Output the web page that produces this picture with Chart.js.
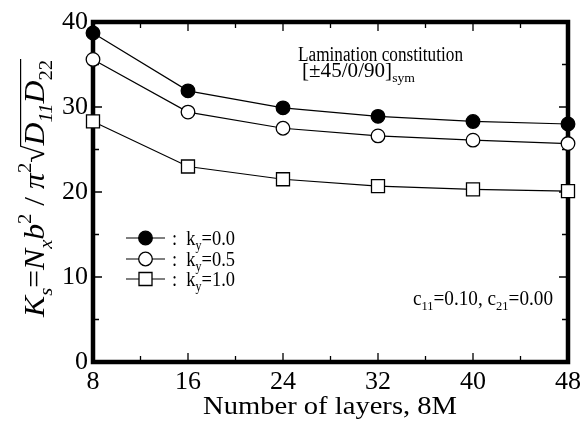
<!DOCTYPE html>
<html>
<head>
<meta charset="utf-8">
<script src="https://cdn.jsdelivr.net/npm/chart.js@4.4.1/dist/chart.umd.min.js"></script>
<style>
html, body { margin: 0; padding: 0; background: #fff; }
canvas { display: block; }
</style>
</head>
<body>
<canvas id="bucklingChart" width="582" height="423"></canvas>
<script>
// number of layers 8M
const layers = [8, 16, 24, 32, 40, 48];
// buckling coefficient Ks for each ky
const ky00 = [38.7, 31.9, 29.9, 28.9, 28.3, 28.0];
const ky05 = [35.6, 29.4, 27.5, 26.6, 26.1, 25.7];
const ky10 = [28.3, 23.0, 21.5, 20.7, 20.3, 20.1];
const seriesNames = ["0.0", "0.5", "1.0"];
const xTicks = [8, 16, 24, 32, 40, 48];
const yTicks = [0, 10, 20, 30, 40];

const SERIF = '"Liberation Serif", "Times New Roman", serif';

function toPoints(ys) {
    return layers.map((x, i) => ({ x: x, y: ys[i] }));
}

// draws text made of pieces [text, italic, pos] where pos is "", "sub" or "sup"
function drawRich(ctx, parts, x, y, size, fitWidth) {
    const items = parts.map(p => {
        const s = p[2] ? size * 0.65 : size;
        const font = (p[1] ? "italic " : "") + s + "px " + SERIF;
        ctx.font = font;
        return { text: p[0], font: font, pos: p[2], w: ctx.measureText(p[0]).width };
    });
    const total = items.reduce((a, b) => a + b.w, 0);
    const k = fitWidth ? fitWidth / total : 1;
    ctx.save();
    ctx.translate(x, y);
    ctx.scale(k, 1);
    ctx.fillStyle = "#000";
    ctx.textBaseline = "alphabetic";
    ctx.textAlign = "left";
    let cx = 0;
    items.forEach(it => {
        ctx.font = it.font;
        let dy = 0;
        if (it.pos === "sub") dy = size * 0.27;
        if (it.pos === "sup") dy = -size * 0.42;
        it.x = cx;
        ctx.fillText(it.text, cx, dy);
        cx += it.w;
    });
    ctx.restore();
    items.forEach(it => { it.x = x + it.x * k; it.w = it.w * k; });
    return items;
}

const framePlugin = {
    id: "frame",
    beforeDatasetsDraw(chart) {
        const ctx = chart.ctx;
        const a = chart.chartArea;
        const xs = chart.scales.x;
        const ys = chart.scales.y;
        ctx.save();
        ctx.strokeStyle = "#000";
        // inward ticks on all four sides
        ctx.lineWidth = 1.3;
        ctx.beginPath();
        for (let i = 0; i < xTicks.length; i++) {
            const px = xs.getPixelForValue(xTicks[i]);
            ctx.moveTo(px, a.bottom); ctx.lineTo(px, a.bottom - 9);
            ctx.moveTo(px, a.top); ctx.lineTo(px, a.top + 9);
            if (i < xTicks.length - 1) {
                const pm = xs.getPixelForValue((xTicks[i] + xTicks[i + 1]) / 2);
                ctx.moveTo(pm, a.bottom); ctx.lineTo(pm, a.bottom - 6);
                ctx.moveTo(pm, a.top); ctx.lineTo(pm, a.top + 6);
            }
        }
        for (let i = 0; i < yTicks.length; i++) {
            const py = ys.getPixelForValue(yTicks[i]);
            ctx.moveTo(a.left, py); ctx.lineTo(a.left + 9, py);
            ctx.moveTo(a.right, py); ctx.lineTo(a.right - 9, py);
            if (i < yTicks.length - 1) {
                const pm = ys.getPixelForValue((yTicks[i] + yTicks[i + 1]) / 2);
                ctx.moveTo(a.left, pm); ctx.lineTo(a.left + 6, pm);
                ctx.moveTo(a.right, pm); ctx.lineTo(a.right - 6, pm);
            }
        }
        ctx.stroke();
        ctx.lineWidth = 4.5;
        ctx.lineJoin = "miter";
        ctx.strokeRect(a.left, a.top, a.right - a.left, a.bottom - a.top);
        ctx.restore();
    },
    afterDatasetsDraw(chart) {
        const ctx = chart.ctx;
        // legend
        const styles = chart.data.datasets;
        const rowY = [238, 259, 279];
        styles.forEach((ds, i) => {
            ctx.save();
            ctx.strokeStyle = "#000";
            ctx.lineWidth = 1.2;
            ctx.beginPath();
            ctx.moveTo(126, rowY[i]);
            ctx.lineTo(165, rowY[i]);
            ctx.stroke();
            ctx.fillStyle = ds.pointBackgroundColor;
            ctx.strokeStyle = "#000";
            ctx.lineWidth = ds.pointBorderWidth;
            Chart.helpers.drawPoint(ctx, {
                pointStyle: ds.pointStyle, radius: ds.pointRadius,
                rotation: 0, borderWidth: ds.pointBorderWidth
            }, 145.5, rowY[i]);
            ctx.restore();
            drawRich(ctx, [[":  k", false, ""], ["y", false, "sub"], ["=" + seriesNames[i], false, ""]],
                172, rowY[i] + 6.5, 21, 63);
        });

        // annotations
        drawRich(ctx, [["Lamination constitution", false, ""]], 298, 61, 20, 165);
        drawRich(ctx, [["[\u00B145/0/90]", false, ""], ["sym", false, "sub"]], 302, 77, 20, 113);
        drawRich(ctx, [["c", false, ""], ["11", false, "sub"], ["=0.10, c", false, ""], ["21", false, "sub"], ["=0.00", false, ""]],
            413, 305, 20, 140);

        // x axis title
        drawRich(ctx, [["Number of layers, 8M", false, ""]], 203, 414, 26, 254);

        // y axis title (rotated)
        ctx.save();
        ctx.translate(44, 317);
        ctx.rotate(-Math.PI / 2);
        const items = drawRich(ctx, [
            ["K", true, ""], ["s", true, "sub"], ["=", false, ""], ["N", true, ""], ["x", true, "sub"],
            ["b", true, ""], ["2", false, "sup"], [" / ", false, ""], ["\u03C0", true, ""], ["2", false, "sup"],
            ["\u221A", false, ""], ["D", true, ""], ["11", true, "sub"], ["D", true, ""], ["22", false, "sub"]
        ], 0, 0, 30, 257);
        const rad = items[10];
        const last = items[items.length - 1];
        ctx.font = "30px " + SERIF;
        const asc = ctx.measureText("\u221A").actualBoundingBoxAscent;
        ctx.strokeStyle = "#000";
        ctx.lineWidth = 1.2;
        ctx.beginPath();
        ctx.moveTo(rad.x + rad.w - 1, -asc + 0.6);
        ctx.lineTo(last.x + last.w + 1, -asc + 0.6);
        ctx.stroke();
        ctx.restore();
    }
};

const ctx = document.getElementById("bucklingChart").getContext("2d");

const bucklingChart = new Chart(ctx, {
    type: "line",
    data: {
        datasets: [
            {
                label: "ky=0.0",
                data: toPoints(ky00),
                borderColor: "#000",
                borderWidth: 1.2,
                pointStyle: "circle",
                pointRadius: 6.8,
                pointBorderWidth: 1.3,
                pointBackgroundColor: "#000",
                pointBorderColor: "#000",
                clip: false
            },
            {
                label: "ky=0.5",
                data: toPoints(ky05),
                borderColor: "#000",
                borderWidth: 1.2,
                pointStyle: "circle",
                pointRadius: 6.8,
                pointBorderWidth: 1.3,
                pointBackgroundColor: "#fff",
                pointBorderColor: "#000",
                clip: false
            },
            {
                label: "ky=1.0",
                data: toPoints(ky10),
                borderColor: "#000",
                borderWidth: 1.2,
                pointStyle: "rect",
                pointRadius: 9.2,
                pointBorderWidth: 1.3,
                pointBackgroundColor: "#fff",
                pointBorderColor: "#000",
                clip: false
            }
        ]
    },
    options: {
        responsive: false,
        animation: false,
        devicePixelRatio: 1,
        layout: { padding: { top: 22, right: 14, left: 0, bottom: 0 } },
        plugins: {
            legend: { display: false },
            tooltip: { enabled: false }
        },
        scales: {
            x: {
                type: "linear",
                min: 8,
                max: 48,
                afterFit(scale) { scale.height = 61; },
                afterBuildTicks(scale) { scale.ticks = xTicks.map(v => ({ value: v })); },
                grid: { display: false },
                border: { display: false },
                ticks: {
                    color: "#000",
                    padding: -3,
                    font: { family: SERIF, size: 26 }
                }
            },
            y: {
                min: 0,
                max: 40,
                afterFit(scale) { scale.width = 93; },
                afterBuildTicks(scale) { scale.ticks = yTicks.map(v => ({ value: v })); },
                grid: { display: false },
                border: { display: false },
                ticks: {
                    color: "#000",
                    padding: -3,
                    font: { family: SERIF, size: 26 }
                }
            }
        }
    },
    plugins: [framePlugin]
});
</script>
</body>
</html>
